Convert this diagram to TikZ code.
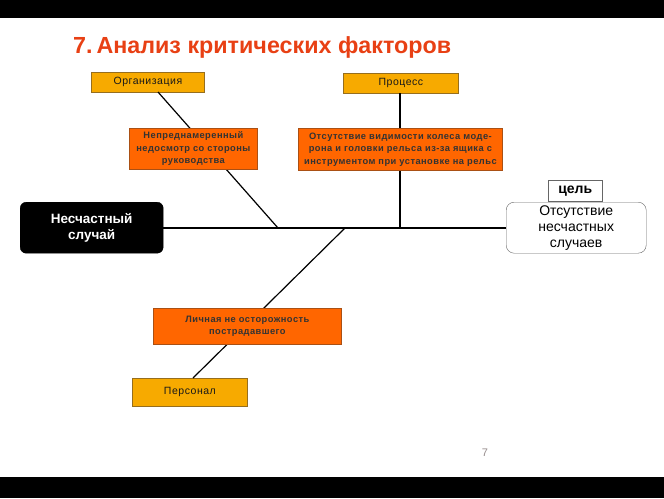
\documentclass[tikz,border=0pt]{standalone}
\usepackage{fontspec}
\setmainfont{Liberation Sans}
\newfontfamily\spaced[LetterSpace=5]{Liberation Sans}
\definecolor{amber}{RGB}{247,170,0}
\definecolor{amberline}{RGB}{150,110,30}
\definecolor{orng}{RGB}{255,102,0}
\definecolor{orngline}{RGB}{170,80,20}
\definecolor{titlered}{RGB}{232,64,20}
\definecolor{pagegray}{RGB}{150,140,140}
\tikzset{
  cat/.style={draw=amberline, fill=amber, line width=0.8pt, inner sep=0pt, anchor=north west, font=\fontsize{10.5}{12}\selectfont\spaced, text=black!90},
  cause/.style={draw=orngline, fill=orng, line width=0.8pt, inner sep=0pt, anchor=north west, align=center, font=\fontsize{9.3}{12.5}\selectfont\spaced\bfseries, text=black!80},
  bone/.style={line width=1.2pt, black},
}
\begin{document}
\begin{tikzpicture}[x=1pt,y=-1pt]
\useasboundingbox (0,0) rectangle (664,498);
\fill[black] (0,0) rectangle (664,18);
\fill[black] (0,477) rectangle (664,498);
\node[anchor=west, text=titlered, font=\fontsize{23.3}{26}\bfseries, inner sep=0pt] (title) at (73,47) {7.\,Анализ критических факторов};
% spine
\coordinate (j1) at (278,228);
\coordinate (j2) at (400,228);
\coordinate (j3) at (345,228);
\node[cat, minimum width=113pt, minimum height=20pt] (org) at (91,72) {Организация};
\node[cat, minimum width=115pt, minimum height=20pt] (proc) at (343,73) {Процесс};
\node[cat, minimum width=115pt, minimum height=28pt] (pers) at (132,378) {Персонал};
\draw[bone] (158,92) -- (j1);
\draw[bone] (400,93) -- (j2);
\draw[bone] (j3) -- (193,378);
\node[draw=black, fill=black, rounded corners=6pt, minimum width=143pt, minimum height=51pt, anchor=north west, inner sep=0pt, align=center, text=white, font=\fontsize{13.5}{16}\bfseries] (acc) at (20,202) {Несчастный\\случай};
\node[draw=black!60, fill=white, rounded corners=8pt, minimum width=140pt, minimum height=51pt, anchor=north west, inner sep=0pt, align=center, font=\fontsize{14}{16}\selectfont] (goal) at (506,202) {Отсутствие\\несчастных\\случаев};
\node[draw=black!60, fill=white, minimum width=54pt, minimum height=21pt, anchor=north west, inner sep=0pt, font=\fontsize{14}{15}\bfseries] (goallbl) at (548,180) {цель};
\draw[bone] (acc.east |- j1) -- (goal.west |- j1);
\node[cause, minimum width=128pt, minimum height=41pt] (c1) at (129,128) {Непреднамеренный\\недосмотр со стороны\\руководства};
\node[cause, minimum width=204pt, minimum height=42pt] (c2) at (298,128) {Отсутствие видимости колеса моде-\\рона и головки рельса из-за ящика с\\инструментом при установке на рельс};
\node[cause, minimum width=188pt, minimum height=36pt] (c3) at (153,308) {Личная не осторожность\\пострадавшего};
\node[text=pagegray, font=\fontsize{11}{13}\selectfont] (pg) at (485,453) {7};
\end{tikzpicture}
\end{document}
